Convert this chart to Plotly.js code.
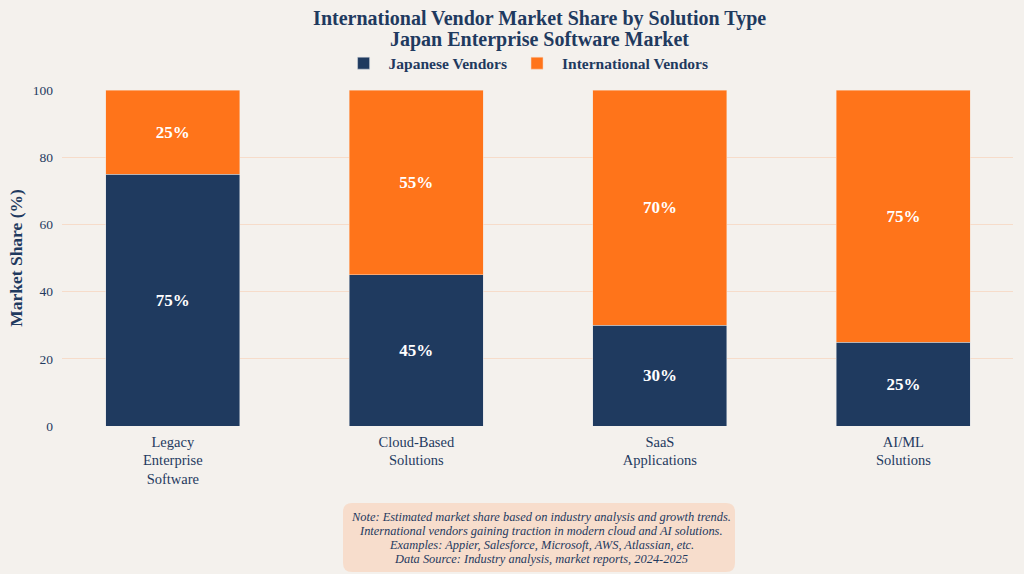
<!DOCTYPE html>
<html>
<head>
<meta charset="utf-8">
<script src="https://cdn.plot.ly/plotly-3.0.1.min.js"></script>
<style>
html,body{margin:0;padding:0;background:#f4f1ed;}
#chart{width:1024px;height:574px;}
</style>
</head>
<body>
<div id="chart"></div>
<script>
const categories = ["Legacy<br>Enterprise<br>Software", "Cloud-Based<br>Solutions", "SaaS<br>Applications", "AI/ML<br>Solutions"];
const japaneseVendors = [75, 45, 30, 25];
const internationalVendors = [25, 55, 70, 75];
const seriesNames = ["Japanese Vendors", "International Vendors"];
const titleLine = "International Vendor Market Share by Solution Type";
const subtitleLine = "Japan Enterprise Software Market";
const noteLines = [
  "Note: Estimated market share based on industry analysis and growth trends.",
  "International vendors gaining traction in modern cloud and AI solutions.",
  "Examples: Appier, Salesforce, Microsoft, AWS, Atlassian, etc.",
  "Data Source: Industry analysis, market reports, 2024-2025"
];

const FONT = "Palatino Linotype, Book Antiqua, Liberation Serif, serif";
const NAVY = "#1f3a5f";
const ORANGE = "#ff741a";

const traces = [
  {
    type: "bar", name: seriesNames[0], x: categories, y: japaneseVendors,
    marker: {color: NAVY, line: {color: "#d9dde3", width: 0.5}},
    text: japaneseVendors.map(v => v + "%"), textposition: "inside", insidetextanchor: "middle",
    textfont: {family: FONT, size: 17, color: "#ffffff", weight: "bold"},
    hoverinfo: "none"
  },
  {
    type: "bar", name: seriesNames[1], x: categories, y: internationalVendors,
    marker: {color: ORANGE, line: {color: "#f7d9c4", width: 0.5}},
    text: internationalVendors.map(v => v + "%"), textposition: "inside", insidetextanchor: "middle",
    textfont: {family: FONT, size: 17, color: "#ffffff", weight: "bold"},
    hoverinfo: "none"
  }
];

// pixel -> paper helpers (plot area: x 62..1013, y 90..426)
const PL = 62, PW = 951, PB = 426, PH = 336;
const px = v => (v - PL) / PW, py = v => (PB - v) / PH;

const layout = {
  width: 1024, height: 574,
  barmode: "stack", bargap: 0.45,
  paper_bgcolor: "#f4f1ed", plot_bgcolor: "#f4f1ed",
  font: {family: FONT, color: NAVY},
  margin: {l: 62, r: 11, t: 90, b: 148},
  title: {
    text: "<b>" + titleLine + "</b>",
    x: 0.527, xanchor: "center", y: 1 - 18 / 574, yanchor: "middle",
    font: {family: FONT, size: 20, color: NAVY}
  },
  legend: {
    orientation: "h", x: 0.488, xanchor: "center", y: 1.028, yanchor: "bottom",
    font: {family: FONT, size: 15.5, color: NAVY, weight: "bold"},
    bgcolor: "rgba(0,0,0,0)", itemwidth: 40, traceorder: "normal"
  },
  xaxis: {
    range: [-0.455, 3.45],
    tickfont: {family: FONT, size: 14.5, color: NAVY},
    ticklabelstandoff: 5,
    showgrid: false, zeroline: false, showline: false, ticks: ""
  },
  yaxis: {
    range: [0, 100], dtick: 20,
    title: {text: "<b>Market Share (%)</b>", font: {family: FONT, size: 17.5, color: NAVY}, standoff: 5},
    tickfont: {family: FONT, size: 13.5, color: NAVY},
    ticklabelstandoff: 8,
    gridcolor: "#f6dcca", gridwidth: 1, zeroline: false, showline: false, ticks: ""
  },
  shapes: [],
  annotations: [{
    xref: "paper", yref: "paper", x: px(539), y: py(39), xanchor: "center", yanchor: "middle",
    text: "<b>" + subtitleLine + "</b>", showarrow: false,
    font: {family: FONT, size: 20, color: NAVY}
  }]
};

noteLines.forEach((line, i) => {
  layout.annotations.push({
    xref: "paper", yref: "paper", x: px(541), y: py(517 + 14 * i), xanchor: "center", yanchor: "middle",
    text: "<i>" + line + "</i>", showarrow: false, align: "center",
    font: {family: FONT, size: 12.4, color: NAVY}
  });
});

// rounded note box
(function(){
  const x0 = 343, x1 = 735, y0 = 503, y1 = 572, r = 9;
  const path = `M ${px(x0 + r)} ${py(y0)} L ${px(x1 - r)} ${py(y0)} Q ${px(x1)} ${py(y0)} ${px(x1)} ${py(y0 + r)} ` +
    `L ${px(x1)} ${py(y1 - r)} Q ${px(x1)} ${py(y1)} ${px(x1 - r)} ${py(y1)} L ${px(x0 + r)} ${py(y1)} ` +
    `Q ${px(x0)} ${py(y1)} ${px(x0)} ${py(y1 - r)} L ${px(x0)} ${py(y0 + r)} Q ${px(x0)} ${py(y0)} ${px(x0 + r)} ${py(y0)} Z`;
  layout.shapes.push({type: "path", xref: "paper", yref: "paper", path: path,
    fillcolor: "#f7ddcc", line: {width: 0}, layer: "below"});
})();

Plotly.newPlot("chart", traces, layout, {displayModeBar: false, staticPlot: true});
</script>
</body>
</html>
